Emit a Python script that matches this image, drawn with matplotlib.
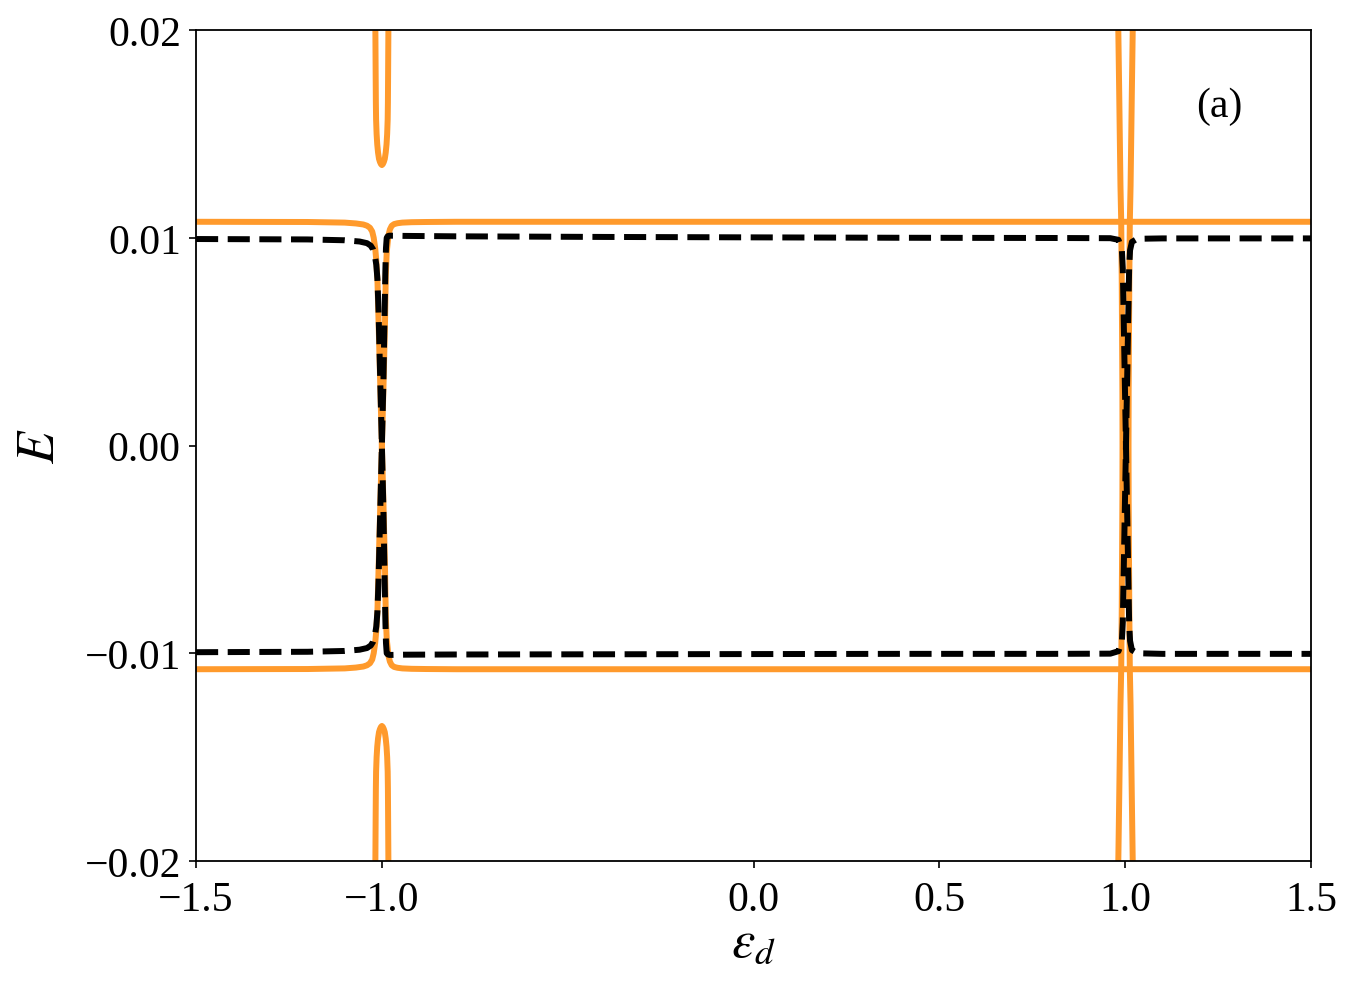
import numpy as np
import matplotlib
matplotlib.use("Agg")
import matplotlib.pyplot as plt

# > data (eps_d, E):
# orange, upper-left -> crossing at -1 -> lower-right  (and mirror B)
ORANGE_X = [-1.5, -1.2, -1.1, -1.07, -1.05, -1.04, -1.032, -1.026, -1.022,
            -1.018, -1.0155, -1.012, -1.009, -1.0045, -1.0, -0.9955, -0.9915,
            -0.9895, -0.987, -0.9825, -0.9785, -0.9735, -0.967, -0.958,
            -0.945, -0.92, -0.88, -0.80, 1.5]
ORANGE_A_E = [0.01077, 0.01076, 0.01073, 0.01069, 0.01064, 0.01058, 0.01048,
              0.01030, 0.01000, 0.00950, 0.00900, 0.00800, 0.00600, 0.00300,
              0.0, -0.00300, -0.00600, -0.00820, -0.00930, -0.01010, -0.01040,
              -0.01058, -0.01066, -0.01070, -0.01073, -0.01075, -0.01076,
              -0.01077, -0.01077]
ORANGE_B_E = [-0.01077, -0.01076, -0.01073, -0.01069, -0.01064, -0.01058,
              -0.01048, -0.01030, -0.01000, -0.00950, -0.00900, -0.00800,
              -0.00600, -0.00300, 0.0, 0.00300, 0.00600, 0.00820, 0.00930,
              0.01010, 0.01040, 0.01058, 0.01066, 0.01070, 0.01073, 0.01075,
              0.01076, 0.01077, 0.01077]

# orange U-shapes near eps_d = -1
ORANGE_U_X = [-1.0177, -1.0175, -1.0168, -1.0162, -1.0156, -1.0142, -1.0125,
              -1.0103, -1.0078, -1.0052, -1.0026, -1.0, -0.9974, -0.9948,
              -0.9922, -0.9897, -0.9875, -0.9858, -0.9844, -0.9838, -0.9832,
              -0.9825, -0.9823]
ORANGE_U_UP_E = [0.0205, 0.0200, 0.0180, 0.0165, 0.0157, 0.0150, 0.0145,
                 0.0141, 0.0138, 0.01365, 0.01355, 0.0135, 0.01355, 0.01365,
                 0.0138, 0.0141, 0.0145, 0.0150, 0.0157, 0.0165, 0.0180,
                 0.0200, 0.0205]
ORANGE_U_LOW_E = [-0.0205, -0.0200, -0.0180, -0.0165, -0.0157, -0.0150,
                  -0.0145, -0.0141, -0.0138, -0.01365, -0.01355, -0.0135,
                  -0.01355, -0.01365, -0.0138, -0.0141, -0.0145, -0.0150,
                  -0.0157, -0.0165, -0.0180, -0.0200, -0.0205]

# orange steep lines near eps_d = +1
ORANGE_V_E = [-0.0205, -0.020, -0.017, -0.015, -0.0125, -0.0108, -0.008,
              -0.005, -0.0025, 0.0, 0.0025, 0.005, 0.008, 0.0108, 0.0125,
              0.015, 0.017, 0.020, 0.0205]
ORANGE_V_LEFT_X = [0.9809, 0.9814, 0.9838, 0.9853, 0.9872, 0.9892, 0.9906,
                   0.9916, 0.9924, 0.9927, 0.9924, 0.9916, 0.9906, 0.9892,
                   0.9872, 0.9853, 0.9838, 0.9814, 0.9809]
ORANGE_V_RIGHT_X = [1.0207, 1.0202, 1.0178, 1.0163, 1.0144, 1.0124, 1.0110,
                    1.0100, 1.0092, 1.0089, 1.0092, 1.0100, 1.0110, 1.0124,
                    1.0144, 1.0163, 1.0178, 1.0202, 1.0207]

# black dashed, two branches crossing at -1 and +1
BLACK_X = [-1.5, -1.2, -1.1, -1.06, -1.04, -1.03, -1.024, -1.019, -1.015,
           -1.012, -1.009, -1.0045, -1.0, -0.996, -0.9925, -0.9905, -0.989,
           -0.987, -0.984, -0.98, -0.97, -0.94, -0.8, -0.4, 0.0, 0.4, 0.8,
           0.96, 0.982, 0.991, 0.9935, 0.996, 0.999, 1.002, 1.005, 1.008,
           1.0105, 1.013, 1.018, 1.032, 1.10, 1.5]
BLACK_A_E = [0.00994, 0.00992, 0.00988, 0.00982, 0.00974, 0.00962, 0.00945,
             0.00915, 0.00870, 0.00800, 0.00650, 0.00320, 0.0, -0.00300,
             -0.00650, -0.00850, -0.00950, -0.01000, -0.01006, -0.01008,
             -0.01008, -0.01007, -0.01006, -0.01005, -0.01004, -0.01003,
             -0.01003, -0.01002, -0.00990, -0.00940, -0.00850, -0.00600,
             -0.00300, 0.0, 0.00300, 0.00600, 0.00850, 0.00940, 0.00980,
             0.00995, 0.00997, 0.00997]
BLACK_B_E = [-0.00995, -0.00993, -0.00989, -0.00983, -0.00975, -0.00963,
             -0.00946, -0.00916, -0.00871, -0.00800, -0.00650, -0.00320, 0.0,
             0.00300, 0.00650, 0.00850, 0.00950, 0.01000, 0.01008, 0.01010,
             0.01010, 0.01009, 0.01007, 0.01004, 0.01002, 0.01000, 0.00999,
             0.00998, 0.00990, 0.00940, 0.00850, 0.00600, 0.00300, 0.0,
             -0.00300, -0.00600, -0.00850, -0.00940, -0.00985, -0.01000,
             -0.01003, -0.01003]

X_TICKS = [-1.5, -1.0, 0.0, 0.5, 1.0, 1.5]
Y_TICKS = [-0.02, -0.01, 0.00, 0.01, 0.02]
xlabel = r"$\varepsilon_d$"
ylabel = r"$E$"
panel = "(a)"
# <

# > Font size:
FONT_LABELS = 38
FONT_TICKLABELS = 30
FONT_PANEL = 30
# <

# > Font setting:
plt.rcParams["font.family"] = ["Liberation Serif", "DejaVu Serif"]
plt.rcParams["mathtext.fontset"] = "stix"
# <

ORANGE = "#FF9A2C"
LW = 4.3

fig = plt.figure(figsize=(13.53, 9.95), dpi=100)
ax = fig.add_axes([0.1449, 0.1337, 0.8241, 0.8351])

# orange solid
ax.plot(ORANGE_X, ORANGE_A_E, color=ORANGE, lw=LW)
ax.plot(ORANGE_X, ORANGE_B_E, color=ORANGE, lw=LW)
ax.plot(ORANGE_U_X, ORANGE_U_UP_E, color=ORANGE, lw=LW)
ax.plot(ORANGE_U_X, ORANGE_U_LOW_E, color=ORANGE, lw=LW)
ax.plot(ORANGE_V_LEFT_X, ORANGE_V_E, color=ORANGE, lw=LW)
ax.plot(ORANGE_V_RIGHT_X, ORANGE_V_E, color=ORANGE, lw=LW)

# black dashed
ax.plot(BLACK_X, BLACK_A_E, color="black", lw=LW, ls="--")
ax.plot(BLACK_X, BLACK_B_E, color="black", lw=LW, ls="--")

ax.set_xlim(-1.5, 1.5)
ax.set_ylim(-0.02, 0.02)
ax.set_xticks(X_TICKS)
ax.set_yticks(Y_TICKS)
ax.tick_params(axis="both", labelsize=FONT_TICKLABELS, length=5, width=1.2,
               pad=6)
ax.tick_params(axis="x", pad=9)
for s in ax.spines.values():
    s.set_linewidth(1.3)
ax.set_xlabel(xlabel, fontsize=FONT_LABELS, labelpad=0)
ax.set_ylabel(ylabel, fontsize=FONT_LABELS, labelpad=14)
ax.text(0.918, 0.909, panel, transform=ax.transAxes, fontsize=FONT_PANEL,
        ha="center", va="center")

fig.savefig("out.png", dpi=100)
